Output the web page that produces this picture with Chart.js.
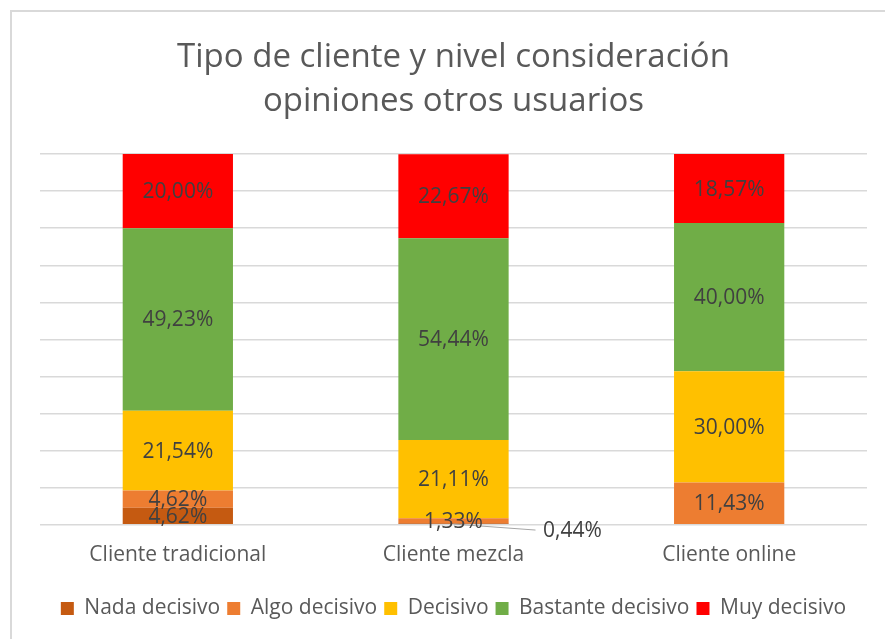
<!DOCTYPE html>
<html>
<head>
<meta charset="utf-8">
<script src="https://cdn.jsdelivr.net/npm/chart.js@4.4.0/dist/chart.umd.min.js"></script>
<style>
  html, body { margin: 0; padding: 0; background: #fff; overflow: hidden; }
  #wrap { position: relative; width: 885px; height: 639px; }
  #frame { position: absolute; left: 10px; top: 10px; width: 900px; height: 700px;
           border-left: 2px solid #d9d9d9; border-top: 2px solid #d9d9d9; pointer-events: none; }
</style>
</head>
<body>
<div id="wrap">
  <canvas id="chart" width="885" height="639"></canvas>
  <div id="frame"></div>
</div>
<script>
const categories = ['Cliente tradicional', 'Cliente mezcla', 'Cliente online'];
const nada = [4.62, 0.44, 0];
const algo = [4.62, 1.33, 11.43];
const decisivo = [21.54, 21.11, 30.00];
const bastante = [49.23, 54.44, 40.00];
const muy = [20.00, 22.67, 18.57];

const FONT = '"Open Sans", sans-serif';

const fmt = v => v.toFixed(2).replace('.', ',') + '%';

// labels inside each segment, small ones pulled out with a leader line
const segmentLabels = {
  id: 'segmentLabels',
  afterDatasetsDraw(chart) {
    const ctx = chart.ctx;
    ctx.save();
    ctx.font = '21px ' + FONT;
    ctx.fillStyle = '#404040';
    ctx.textAlign = 'center';
    ctx.textBaseline = 'middle';
    chart.data.datasets.forEach((ds, i) => {
      const meta = chart.getDatasetMeta(i);
      meta.data.forEach((bar, j) => {
        const v = ds.data[j];
        if (!v) return;
        const mid = (bar.y + bar.base) / 2;
        if (v < 1) {
          ctx.strokeStyle = '#a6a6a6';
          ctx.lineWidth = 1;
          ctx.beginPath();
          ctx.moveTo(bar.x, bar.base);
          ctx.lineTo(bar.x + 82, bar.base + 6);
          ctx.stroke();
          ctx.fillText(fmt(v), bar.x + 119, bar.base + 7);
        } else {
          ctx.fillText(fmt(v), bar.x, mid + 1);
        }
      });
    });
    ctx.restore();
  }
};

new Chart(document.getElementById('chart'), {
  type: 'bar',
  data: {
    labels: categories,
    datasets: [
      { label: 'Nada decisivo', data: nada, backgroundColor: '#C55A11' },
      { label: 'Algo decisivo', data: algo, backgroundColor: '#ED7D31' },
      { label: 'Decisivo', data: decisivo, backgroundColor: '#FFC000' },
      { label: 'Bastante decisivo', data: bastante, backgroundColor: '#70AD47' },
      { label: 'Muy decisivo', data: muy, backgroundColor: '#FF0000' }
    ]
  },
  options: {
    responsive: false,
    animation: false,
    layout: { padding: { left: 40, right: 18, top: 10, bottom: 10 } },
    datasets: { bar: { barPercentage: 0.4, categoryPercentage: 1 } },
    scales: {
      x: {
        stacked: true,
        grid: { display: false },
        border: { display: false },
        ticks: { color: '#595959', font: { family: FONT, size: 21 }, padding: 10 },
        afterFit: scale => { scale.height += 13; }
      },
      y: {
        stacked: true,
        min: 0,
        max: 100,
        ticks: { display: false, stepSize: 10 },
        border: { display: false },
        grid: { color: '#d9d9d9', lineWidth: 1.5, drawTicks: false }
      }
    },
    plugins: {
      title: {
        display: true,
        text: ['Tipo de cliente y nivel consideración', 'opiniones otros usuarios'],
        color: '#595959',
        font: { family: FONT, size: 33, weight: 'normal', lineHeight: 1.35 },
        padding: { top: 25, bottom: 30 }
      },
      legend: {
        position: 'bottom',
        labels: {
          color: '#595959',
          font: { family: FONT, size: 21 },
          boxWidth: 13,
          boxHeight: 13,
          padding: 7
        }
      },
      tooltip: { enabled: false }
    }
  },
  plugins: [segmentLabels]
});
</script>
</body>
</html>
